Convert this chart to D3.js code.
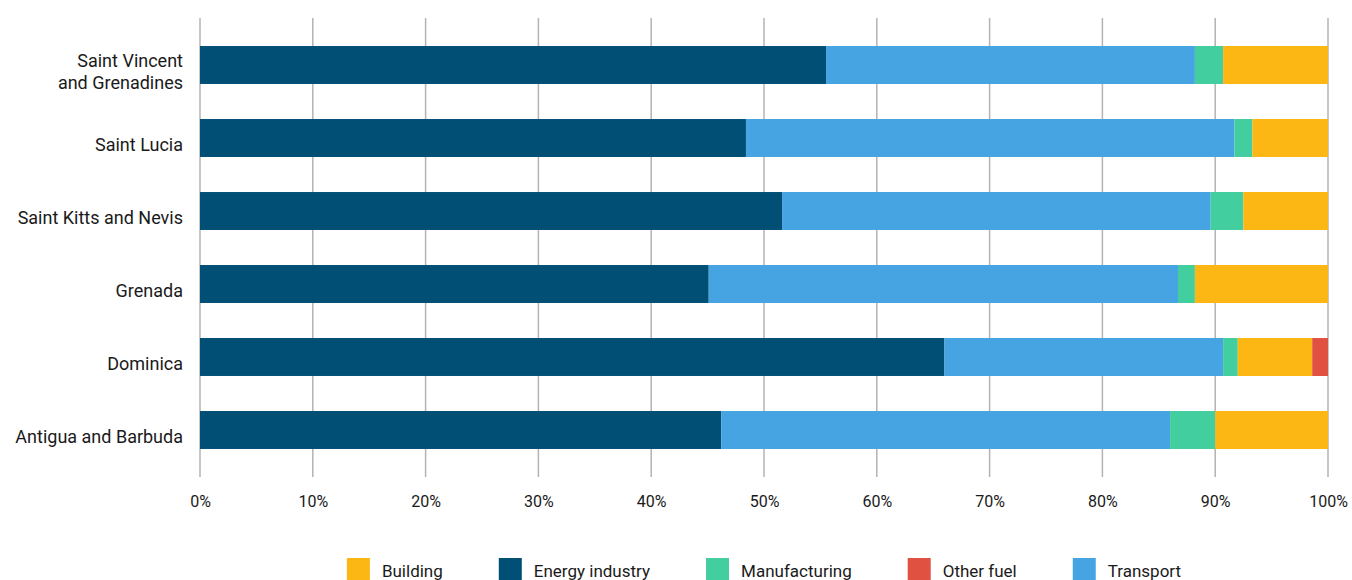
<!DOCTYPE html>
<html>
<head>
<meta charset="utf-8">
<script src="https://cdn.jsdelivr.net/npm/d3@7"></script>
<style>
  body { margin: 0; background: #fff; }
  text { font-family: Roboto, "Noto Sans", sans-serif; fill: #1a1a1a; }
</style>
</head>
<body>
<div class="chart"></div>
<script>
const svgWidth = 1352
const svgHeight = 580

// ========================= DATA =========================
const countries = ["Saint Vincent and Grenadines", "Saint Lucia", "Saint Kitts and Nevis", "Grenada", "Dominica", "Antigua and Barbuda"]
const countryLines = [["Saint Vincent", "and Grenadines"], ["Saint Lucia"], ["Saint Kitts and Nevis"], ["Grenada"], ["Dominica"], ["Antigua and Barbuda"]]

// stack order, left to right
const sectors = ["Energy industry", "Transport", "Manufacturing", "Building", "Other fuel"]
const energy        = [55.5, 48.4, 51.6, 45.1, 66.0, 46.2]
const transport     = [32.7, 43.3, 38.0, 41.6, 24.7, 39.8]
const manufacturing = [2.5, 1.6, 2.9, 1.5, 1.3, 4.0]
const building      = [9.3, 6.7, 7.5, 11.8, 6.6, 10.0]
const otherFuel     = [0, 0, 0, 0, 1.4, 0]

const xTicks = [0, 10, 20, 30, 40, 50, 60, 70, 80, 90, 100]
const legendOrder = ["Building", "Energy industry", "Manufacturing", "Other fuel", "Transport"]

const colors = {
  "Energy industry": "#024f75",
  "Transport": "#47a4e2",
  "Manufacturing": "#42ce9f",
  "Building": "#fdb714",
  "Other fuel": "#e15141"
}

let margin = { top: 18, right: 24, bottom: 103, left: 200 }
let width = svgWidth - margin.left - margin.right
let height = svgHeight - margin.top - margin.bottom

let svg = d3.select(".chart")
  .append("svg")
  .attr("width", svgWidth)
  .attr("height", svgHeight)

let chartGroup = svg.append("g")
  .attr("transform", `translate(${margin.left}, ${margin.top})`)

// build rows for the stack
let rows = countries.map((c, i) => ({
  country: c,
  "Energy industry": energy[i],
  "Transport": transport[i],
  "Manufacturing": manufacturing[i],
  "Building": building[i],
  "Other fuel": otherFuel[i]
}))

let stacked = d3.stack().keys(sectors)(rows)

let xScale = d3.scaleLinear().domain([0, 100]).range([0, width])
let yScale = d3.scaleBand()
  .domain(countries)
  .range([10.5, 448.5])
  .paddingInner(0.48)
  .paddingOuter(0.24)

// gridlines
chartGroup.append("g")
  .selectAll("line")
  .data(xTicks)
  .enter()
  .append("line")
  .attr("x1", d => xScale(d))
  .attr("x2", d => xScale(d))
  .attr("y1", 0)
  .attr("y2", height)
  .attr("stroke", "#b3b3b3")
  .attr("stroke-width", 1.5)

// x axis labels
let bottomAxis = d3.axisBottom(xScale)
  .tickValues(xTicks)
  .tickFormat(d => d + "%")
  .tickSize(0)
  .tickPadding(19)

let xAxis = chartGroup.append("g")
  .attr("transform", `translate(0, ${height})`)
  .call(bottomAxis)
xAxis.select(".domain").remove()
xAxis.selectAll("text")
  .style("font-size", "16px")
  .style("font-family", "Roboto, sans-serif")
  .attr("fill", "#1a1a1a")

// bars
chartGroup.append("g")
  .selectAll("g")
  .data(stacked)
  .enter()
  .append("g")
  .attr("fill", d => colors[d.key])
  .selectAll("rect")
  .data(d => d)
  .enter()
  .append("rect")
  .attr("x", d => xScale(d[0]))
  .attr("y", d => yScale(d.data.country))
  .attr("width", d => xScale(d[1]) - xScale(d[0]))
  .attr("height", yScale.bandwidth())

// category labels (sit a little below the bar centre, like the original)
let labels = chartGroup.append("g")
countries.forEach((c, i) => {
  let lines = countryLines[i]
  let cy = yScale(c) + yScale.bandwidth() / 2 + 7
  let t = labels.append("text")
    .attr("text-anchor", "end")
    .attr("y", cy - (lines.length - 1) * 11)
    .style("font-size", "18px")
  lines.forEach((l, j) => {
    t.append("tspan")
      .attr("x", -17)
      .attr("dy", j === 0 ? "0.35em" : "22px")
      .text(l)
  })
})

// legend
let legend = svg.append("g")
let legendItems = legend.selectAll("g")
  .data(legendOrder)
  .enter()
  .append("g")

legendItems.append("rect")
  .attr("width", 23)
  .attr("height", 24)
  .attr("y", 558)
  .attr("fill", d => colors[d])

legendItems.append("text")
  .attr("x", 35)
  .attr("y", 577)
  .style("font-size", "17px")
  .text(d => d)

let xPos = 0
let offsets = []
legendItems.each(function() {
  let w = d3.select(this).select("text").node().getComputedTextLength()
  offsets.push(xPos)
  xPos += 35 + w + 56
})
let totalW = xPos - 56
let startX = margin.left + width / 2 - totalW / 2
legendItems.attr("transform", (d, i) => `translate(${startX + offsets[i]}, 0)`)
</script>
</body>
</html>
